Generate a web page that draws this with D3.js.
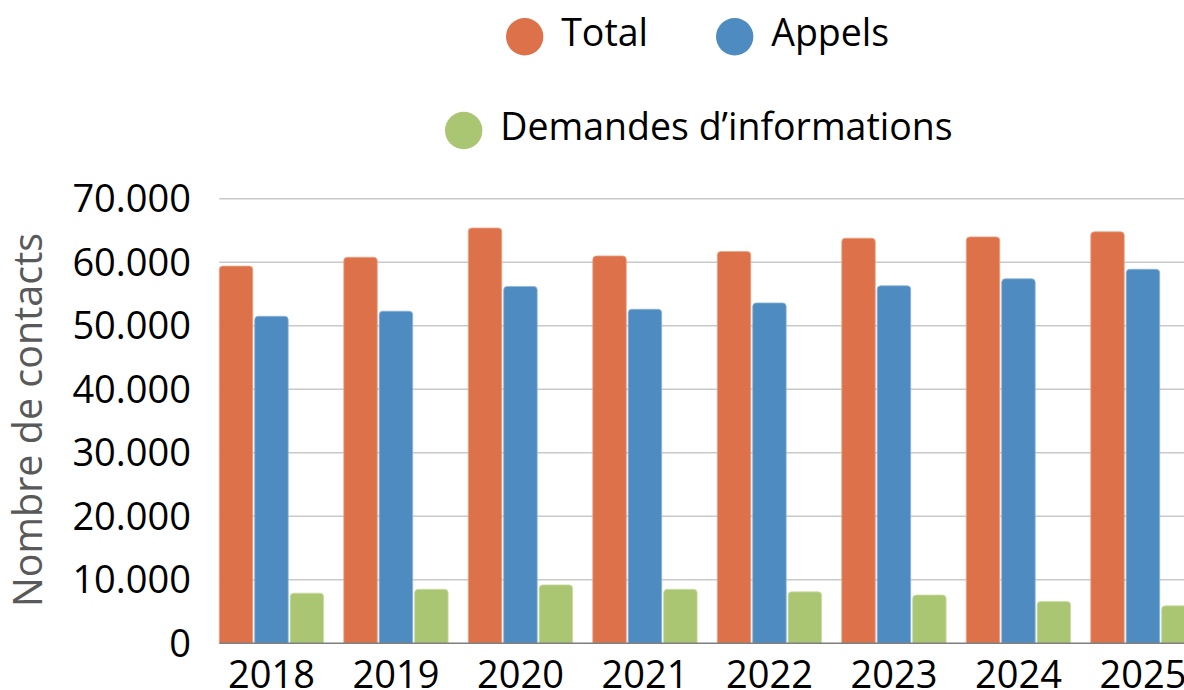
<!DOCTYPE html>
<html>
<head>
<meta charset="utf-8">
<script src="https://cdn.jsdelivr.net/npm/d3@7"></script>
<style>
  body { margin: 0; background: #fff; overflow: hidden; }
  text { font-family: "Open Sans", sans-serif; }
</style>
</head>
<body>
<svg id="chart" width="1184" height="690"></svg>
<script>
// data
var years = ['2018', '2019', '2020', '2021', '2022', '2023', '2024', '2025'];
var seriesNames = ['Total', 'Appels', 'Demandes d\u2019informations'];
var total = [59400, 60800, 65400, 61000, 61700, 63800, 64000, 64800];
var appels = [51500, 52300, 56200, 52600, 53600, 56300, 57400, 58900];
var demandes = [7900, 8500, 9200, 8500, 8100, 7600, 6600, 5900];
var yTicks = [0, 10000, 20000, 30000, 40000, 50000, 60000, 70000];
var colors = ['#dd7149', '#4e8bc1', '#abc673'];
var strokes = ['#eba587', '#8db4d8', '#cadca6'];

var svg = d3.select('#chart');
var fontSize = 38;

var y = d3.scaleLinear().domain([0, 70000]).range([643.3, 198.8]);
var x0 = d3.scaleBand().domain(years).range([219.3, 1195.1]).paddingInner(0.162).paddingOuter(0);
var x1 = d3.scaleBand().domain(seriesNames).range([0, x0.bandwidth()]).paddingInner(0.055);

var fmt = function(d) {
    return d3.format(',')(d).replace(/,/g, '.');
};

// gridlines
svg.append('g')
    .selectAll('line')
    .data(yTicks.filter(function(d) { return d > 0; }))
    .enter()
    .append('line')
    .attr('x1', 219.3)
    .attr('x2', 1200)
    .attr('y1', function(d) { return y(d); })
    .attr('y2', function(d) { return y(d); })
    .attr('stroke', '#c9c9c9')
    .attr('stroke-width', 1.5);

// y tick labels
svg.append('g')
    .selectAll('text')
    .data(yTicks)
    .enter()
    .append('text')
    .attr('x', 191)
    .attr('y', function(d) { return y(d); })
    .attr('dy', '0.36em')
    .attr('text-anchor', 'end')
    .attr('font-size', fontSize)
    .attr('fill', '#000')
    .text(fmt);

// y title
svg.append('text')
    .attr('transform', 'translate(42,420) rotate(-90)')
    .attr('text-anchor', 'middle')
    .attr('font-size', 39.5)
    .attr('fill', '#595959')
    .text('Nombre de contacts');

// bars
var rows = years.map(function(yr, i) {
    return { year: yr, vals: [total[i], appels[i], demandes[i]] };
});

function topRounded(x, y0, w, h, r) {
    r = Math.min(r, h);
    return 'M' + x + ',' + (y0 + h) +
        'V' + (y0 + r) +
        'Q' + x + ',' + y0 + ' ' + (x + r) + ',' + y0 +
        'H' + (x + w - r) +
        'Q' + (x + w) + ',' + y0 + ' ' + (x + w) + ',' + (y0 + r) +
        'V' + (y0 + h) + 'Z';
}

svg.append('g')
    .selectAll('g')
    .data(rows)
    .enter()
    .append('g')
    .attr('transform', function(d) { return 'translate(' + x0(d.year) + ',0)'; })
    .selectAll('path')
    .data(function(d) {
        return d.vals.map(function(v, j) { return { name: seriesNames[j], value: v, j: j }; });
    })
    .enter()
    .append('path')
    .attr('d', function(d) {
        return topRounded(x1(d.name), y(d.value), x1.bandwidth(), y(0) - y(d.value), 3.5);
    })
    .attr('fill', function(d) { return colors[d.j]; })
    .attr('stroke', function(d) { return strokes[d.j]; })
    .attr('stroke-width', 0.8);

// x axis baseline
svg.append('line')
    .attr('x1', 219.3)
    .attr('x2', 1200)
    .attr('y1', y(0))
    .attr('y2', y(0))
    .attr('stroke', '#7f7f7f')
    .attr('stroke-width', 1.6);

// x labels
svg.append('g')
    .selectAll('text')
    .data(years)
    .enter()
    .append('text')
    .attr('x', function(d) { return x0(d) + x0.bandwidth() / 2; })
    .attr('y', 688)
    .attr('text-anchor', 'middle')
    .attr('font-size', fontSize)
    .attr('fill', '#000')
    .text(function(d) { return d; });

// legend
var legendPos = [
    { cx: 524.7, cy: 36.7 },
    { cx: 734.7, cy: 36.7 },
    { cx: 463.7, cy: 130.5 }
];
var legend = svg.append('g')
    .selectAll('g')
    .data(seriesNames)
    .enter()
    .append('g')
    .attr('transform', function(d, i) {
        return 'translate(' + legendPos[i].cx + ',' + legendPos[i].cy + ')';
    });
legend.append('circle')
    .attr('r', 18.7)
    .attr('fill', function(d, i) { return colors[i]; });
legend.append('text')
    .attr('x', 36.5)
    .attr('y', 9.5)
    .attr('font-size', 37.5)
    .attr('fill', '#000')
    .text(function(d) { return d; });
</script>
</body>
</html>
